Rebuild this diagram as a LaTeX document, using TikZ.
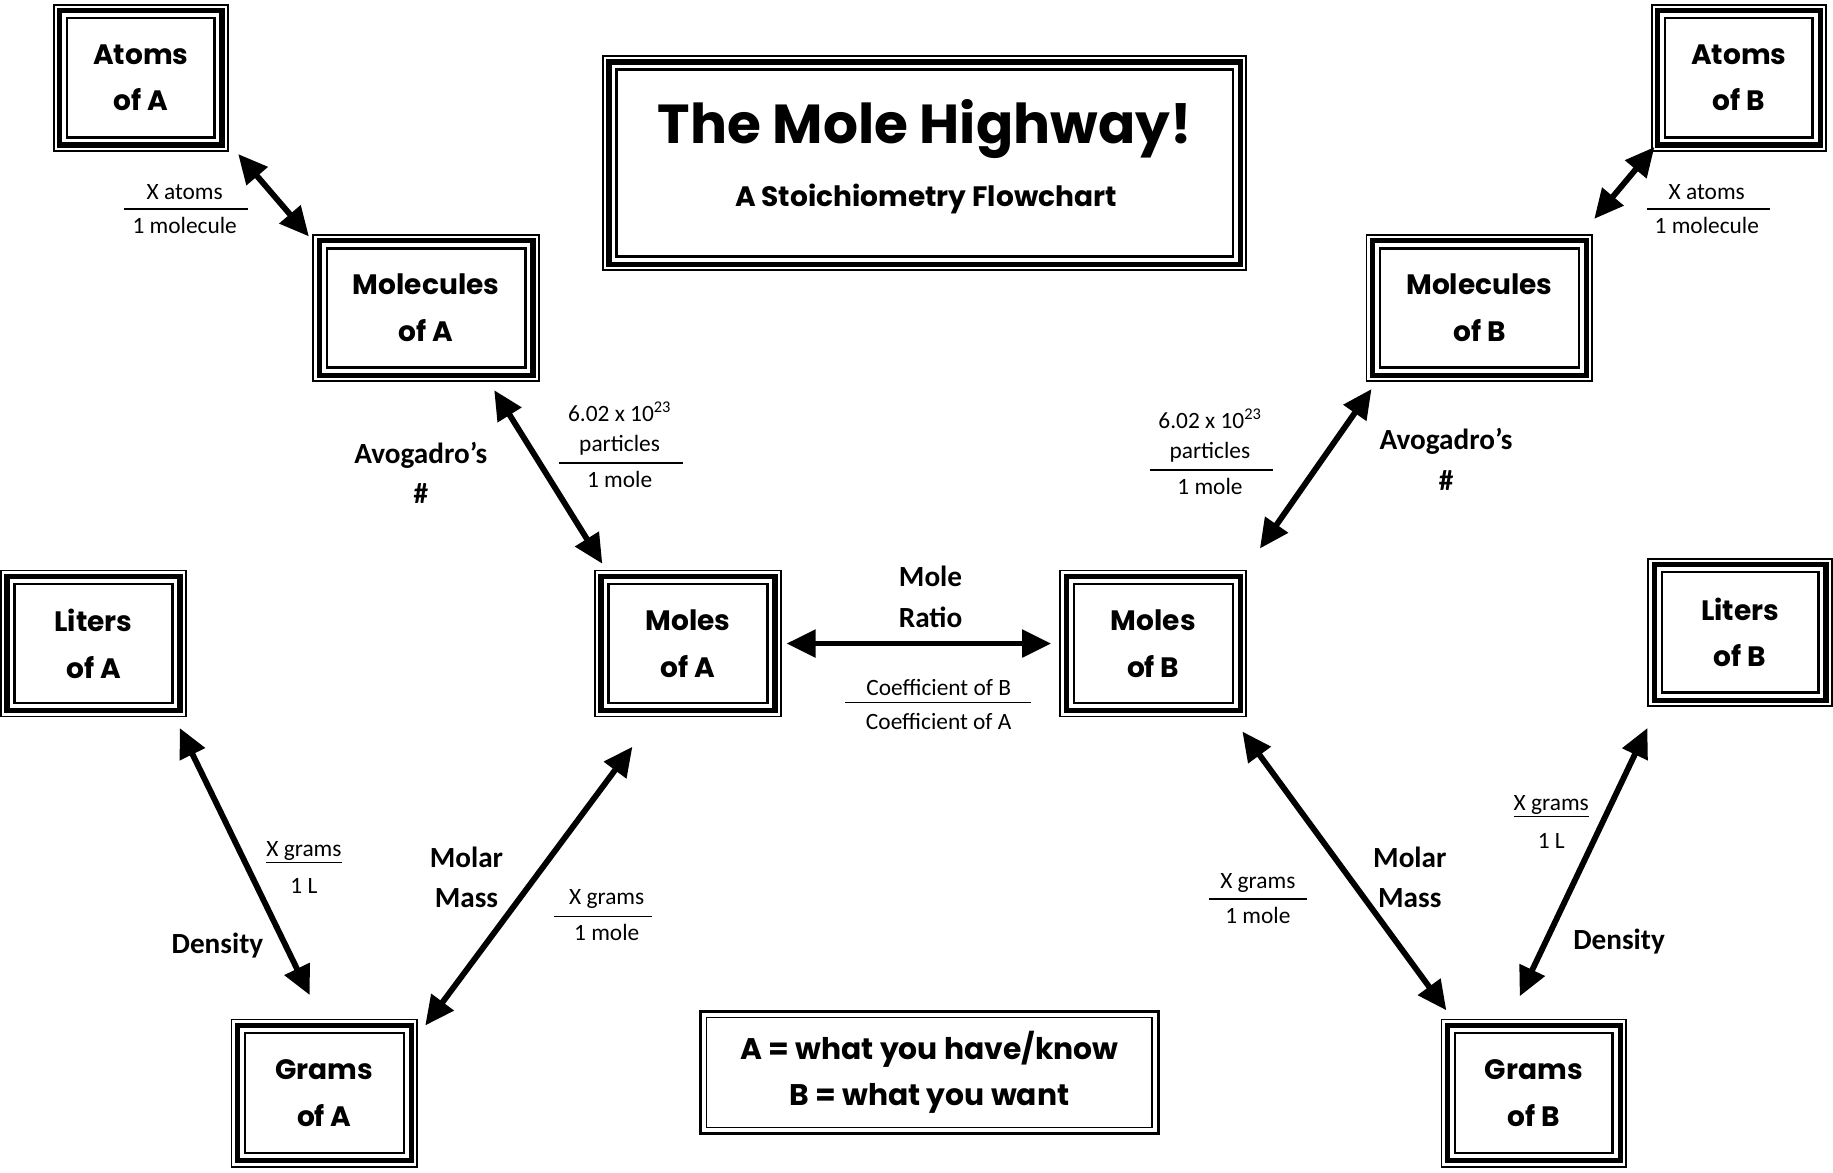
\documentclass[tikz,border=0pt]{standalone}
\usepackage{fontspec}
\setmainfont{Carlito}
\newfontfamily\boxfont{Poppins}
\usetikzlibrary{arrows.meta}
\tikzset{
  tbox/.style={draw, line width=1.5pt, fill=white, inner sep=0pt, align=center,
    font=\boxfont\bfseries\fontsize{24}{40}\selectfont,
    path picture={
      \draw[line width=4.5pt] ([xshift=5pt,yshift=-5pt]path picture bounding box.north west) rectangle ([xshift=-5pt,yshift=5pt]path picture bounding box.south east);
      \draw[line width=2pt] ([xshift=11.5pt,yshift=-11.5pt]path picture bounding box.north west) rectangle ([xshift=-11.5pt,yshift=11.5pt]path picture bounding box.south east);
    }},
  lbox/.style={draw, line width=2.5pt, fill=white, inner sep=0pt, align=center,
    font=\boxfont\bfseries\fontsize{25.5}{39}\selectfont,
    path picture={
      \draw[line width=1.2pt] ([xshift=5.5pt,yshift=-5.5pt]path picture bounding box.north west) rectangle ([xshift=-5.5pt,yshift=5.5pt]path picture bounding box.south east);
    }},
  arr/.style={line width=5pt, {Triangle[length=25pt,width=23pt]}-{Triangle[length=25pt,width=23pt]}},
  lab/.style={font=\fontsize{20}{29}\selectfont, align=center, inner sep=0pt},
  blab/.style={font=\bfseries\fontsize{25}{35}\selectfont, align=center, inner sep=0pt},
  fline/.style={line width=1.3pt},
}
\begin{document}
\begin{tikzpicture}[x=1pt,y=-1pt]
\useasboundingbox (0,0) rectangle (1568,1003);

% boxes
\node[tbox, minimum width=149pt, minimum height=125pt] (atomsA) at (120.5,66.5) {Atoms\\of A};
\node[tbox, minimum width=193pt, minimum height=125pt] (molA) at (364.5,263.5) {Molecules\\of A};
\node[tbox, minimum width=550pt, minimum height=183pt] (title) at (791,139.5) {};
\node[tbox, minimum width=149pt, minimum height=125pt] (atomsB) at (1487.5,66.5) {Atoms\\of B};
\node[tbox, minimum width=193pt, minimum height=125pt] (molB) at (1265.5,263.5) {Molecules\\of B};
\node[tbox, minimum width=158pt, minimum height=125pt] (litersA) at (80,550.5) {Liters\\of A};
\node[tbox, minimum width=159pt, minimum height=125pt] (molesA) at (588.5,550.5) {Moles\\of A};
\node[tbox, minimum width=159pt, minimum height=125pt] (molesB) at (986.5,550.5) {Moles\\of B};
\node[tbox, minimum width=157pt, minimum height=126pt] (litersB) at (1488.5,541) {Liters\\of B};
\node[tbox, minimum width=159pt, minimum height=126pt] (gramsA) at (277.5,935) {Grams\\of A};
\node[tbox, minimum width=158pt, minimum height=126pt] (gramsB) at (1312,935) {Grams\\of B};
\node[lbox, minimum width=392pt, minimum height=105pt] (legend) at (795,917.5) {A = what you have/know\\B = what you want};

% title text
\node[inner sep=0pt, font=\boxfont\bfseries\fontsize{47}{47}\selectfont] (titletext) at (791,110) {The Mole Highway!};
\node[inner sep=0pt, font=\boxfont\bfseries\fontsize{24}{24}\selectfont] (subtitle) at (792,170) {A Stoichiometry Flowchart};

% arrows
\draw[arr] ([shift={(8,2)}]atomsA.south east) -- ([shift={(-3,2)}]molA.north west);
\draw[arr] ([shift={(-39,7)}]molA.south east) -- ([shift={(7,-5)}]molesA.north west);
\draw[arr] ([shift={(4,0)}]molesA.east) -- ([shift={(-7,0)}]molesB.west);
\draw[arr] ([shift={(5,6)}]molB.south west) -- ([shift={(11,-18)}]molesB.north east);
\draw[arr] ([shift={(3,-4)}]atomsB.south west) -- ([shift={(1,-13)}]molB.north east);
\draw[arr] ([shift={(-6,9)}]litersA.south east) -- ([shift={(-12.5,-20)}]gramsA.north);
\draw[arr] ([shift={(6,6)}]gramsA.north east) -- ([shift={(-47.5,25)}]molesA.south);
\draw[arr] ([shift={(-4,12)}]molesB.south east) -- ([shift={(5,-7)}]gramsB.north west);
\draw[arr] ([shift={(0,18)}]litersB.south west) -- ([shift={(-12,-19)}]gramsB.north);

% fractions
\node[lab] (f1n) at (158,164) {X atoms};
\node[lab] (f1d) at (158,193) {1 molecule};
\draw[fline] (106,179) -- (212,179);

\node[lab] (f2a) at (530,352) {6.02 x 10\textsuperscript{23}};
\node[lab] (f2b) at (530,381) {particles};
\node[lab] (f2d) at (530,410) {1 mole};
\draw[fline] (478,396) -- (584,396);

\node[lab] (f3n) at (803,588) {Coefficient of B};
\node[lab] (f3d) at (803,617) {Coefficient of A};
\draw[fline] (723,601) -- (882,601);

\node[lab] (f4a) at (1035,358) {6.02 x 10\textsuperscript{23}};
\node[lab] (f4b) at (1035,387) {particles};
\node[lab] (f4d) at (1035,416) {1 mole};
\draw[fline] (984,402) -- (1089,402);

\node[lab] (f5n) at (1460,164) {X atoms};
\node[lab] (f5d) at (1460,193) {1 molecule};
\draw[fline] (1409,179) -- (1514,179);

\node[lab] (f6n) at (260,729) {\underline{X grams}};
\node[lab] (f6d) at (260,758) {1 L};

\node[lab] (f7n) at (519,769) {X grams};
\node[lab] (f7d) at (519,798) {1 mole};
\draw[fline] (474,784) -- (558,784);

\node[lab] (f8n) at (1076,755) {X grams};
\node[lab] (f8d) at (1076,783) {1 mole};
\draw[fline] (1034,769) -- (1118,769);

\node[lab] (f9n) at (1327,690) {\underline{X grams}};
\node[lab] (f9d) at (1327,719) {1 L};

% bold labels
\node[blab] (avoA) at (360,404.5) {Avogadro’s\\\#};
\node[blab] (avoB) at (1237,393) {Avogadro’s\\\#};
\node[blab] (ratio) at (796,510.5) {Mole\\Ratio};
\node[blab] (mmA) at (399,750.5) {Molar\\Mass};
\node[blab] (mmB) at (1206,750.5) {Molar\\Mass};
\node[blab] (densA) at (186,809) {Density};
\node[blab] (densB) at (1385,805) {Density};
\end{tikzpicture}
\end{document}
